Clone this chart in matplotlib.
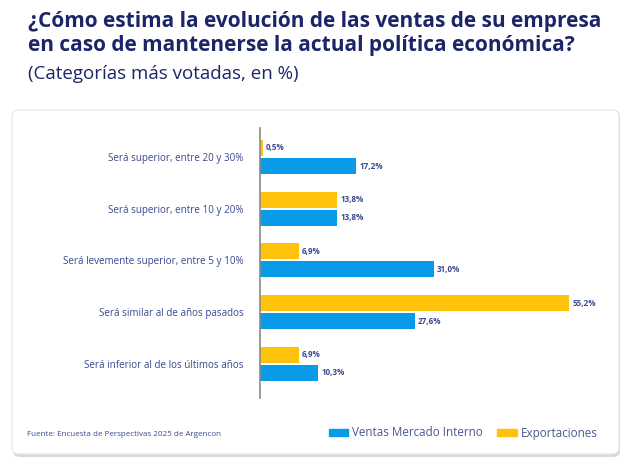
import matplotlib.pyplot as plt
from matplotlib.patches import FancyBboxPatch, Patch
import numpy as np

# Datos
categorias = ['Será superior, entre 20 y 30%',
              'Será superior, entre 10 y 20%',
              'Será levemente superior, entre 5 y 10%',
              'Será similar al de años pasados',
              'Será inferior al de los últimos años']
mercado_interno = [17.2, 13.8, 31.0, 27.6, 10.3]
exportaciones = [0.5, 13.8, 6.9, 55.2, 6.9]

azul = '#0a9be8'
amarillo = '#ffc20a'
navy = '#1c2567'
texto = '#3a4890'

plt.rcParams['font.family'] = ['Open Sans', 'DejaVu Sans']

fig = plt.figure(figsize=(6.34, 4.72), dpi=100)
W, H = 634, 472

# Tarjeta blanca con sombra
sombra = FancyBboxPatch((13 / W, 1 - 457 / H), 607 / W, 347 / H,
                        boxstyle='round,pad=0,rounding_size=0.012',
                        transform=fig.transFigure, facecolor='#d9d9d9',
                        edgecolor='none', zorder=-2)
tarjeta = FancyBboxPatch((12 / W, 1 - 454 / H), 607 / W, 344 / H,
                         boxstyle='round,pad=0,rounding_size=0.012',
                         transform=fig.transFigure, facecolor='white',
                         edgecolor='#e6e6e6', linewidth=0.8, zorder=-1)
fig.patches.extend([sombra, tarjeta])

ax = fig.add_axes([260 / W, 1 - 398 / H, 336 / W, 270 / H])
ax.set_facecolor('none')

y = np.arange(len(categorias))
h = 0.31
off = 0.175
ax.barh(y - off, exportaciones, h, color=amarillo, label='Exportaciones')
ax.barh(y + off, mercado_interno, h, color=azul, label='Ventas Mercado Interno')

for i, v in enumerate(exportaciones):
    ax.text(v + 0.6, i - off, f'{v:.1f}%'.replace('.', ','), va='center', ha='left',
            fontsize=5.8, fontweight='bold', color=texto)
for i, v in enumerate(mercado_interno):
    ax.text(v + 0.6, i + off, f'{v:.1f}%'.replace('.', ','), va='center', ha='left',
            fontsize=5.8, fontweight='bold', color=texto)

ax.set_xlim(0, 60)
ax.set_ylim(4.66, -0.56)
ax.set_yticks(y)
ax.set_yticklabels(categorias, fontsize=7.1, color=texto)
ax.tick_params(axis='y', length=0, pad=12)
ax.set_xticks([])
for s in ['top', 'right', 'bottom']:
    ax.spines[s].set_visible(False)
ax.spines['left'].set_color('#8a8a8a')
ax.spines['left'].set_linewidth(1.2)

# Títulos
fig.text(28 / W, 1 - 22 / H, '¿Cómo estima la evolución de las ventas de su empresa',
         fontsize=15, fontweight='bold', color=navy, va='center', ha='left')
fig.text(28 / W, 1 - 46 / H, 'en caso de mantenerse la actual política económica?',
         fontsize=15, fontweight='bold', color=navy, va='center', ha='left')
fig.text(28 / W, 1 - 74 / H, '(Categorías más votadas, en %)',
         fontsize=13.5, color=navy, va='center', ha='left')

# Fuente
fig.text(27 / W, 1 - 435 / H, 'Fuente: Encuesta de Perspectivas 2025 de Argencon',
         fontsize=5.8, color=texto, va='center', ha='left')

# Leyenda
handles = [Patch(color=azul, label='Ventas Mercado Interno'),
           Patch(color=amarillo, label='Exportaciones')]
fig.legend(handles=handles, loc='center left', bbox_to_anchor=(318 / W, 1 - 433 / H),
           ncol=2, frameon=False, fontsize=8.4, handlelength=1.7, handleheight=0.5,
           columnspacing=1.2, handletextpad=0.35, labelcolor='#4a5890')

fig.savefig('out.png', dpi=100)
